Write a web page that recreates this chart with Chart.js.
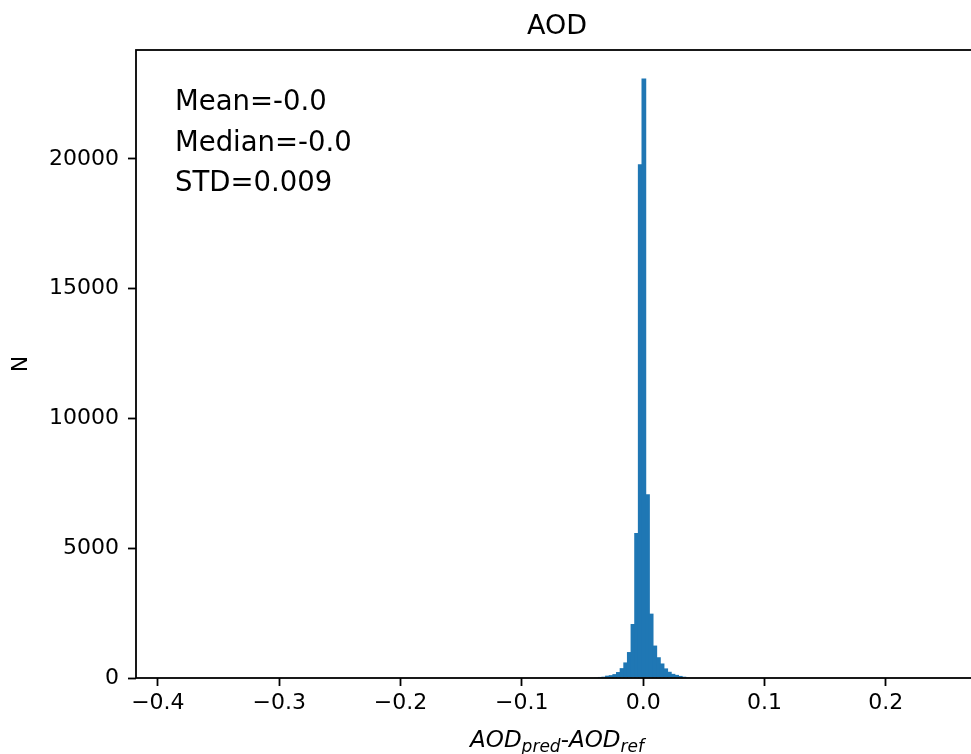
<!DOCTYPE html>
<html>
<head>
<meta charset="utf-8">
<title>AOD</title>
<script src="https://cdn.jsdelivr.net/npm/chart.js@4.4.1/dist/chart.umd.min.js"></script>
<style>
html, body { margin: 0; padding: 0; overflow: hidden; background: #fff; }
#wrap { width: 980px; height: 754px; }
</style>
</head>
<body>
<div id="wrap"><canvas id="histChart"></canvas></div>
<script>
// histogram bins of AOD_pred - AOD_ref (bin centres) and counts
const binCenters = [-0.0384, -0.0354, -0.0324, -0.0294, -0.0264, -0.0234, -0.0204, -0.0174, -0.0144, -0.0114,
                    -0.0084, -0.0054, -0.0024, 0.0006, 0.0036, 0.0066, 0.0096, 0.0126, 0.0156, 0.0186,
                    0.0216, 0.0246, 0.0276, 0.0306, 0.0336, 0.0366];
const binCounts = [25, 40, 50, 90, 110, 150, 230, 380, 600, 1000,
                   2080, 5590, 19800, 23100, 7080, 2480, 1250, 800, 560, 370,
                   240, 160, 120, 80, 50, 30];
const xTicks = [-0.4, -0.3, -0.2, -0.1, 0.0, 0.1, 0.2];
const yTicks = [0, 5000, 10000, 15000, 20000];
const statLines = ['Mean=-0.0', 'Median=-0.0', 'STD=0.009'];

const FONT = '"DejaVu Sans", sans-serif';

function fmtX(v) {
    const r = Math.round(v * 10) / 10;
    return (r < 0 ? '\u2212' : '') + Math.abs(r).toFixed(1);
}

// frame, title, axis labels and the stats text
const decorations = {
    id: 'decorations',
    afterDraw(chart) {
        const { ctx, chartArea: a } = chart;
        const cx = (a.left + a.right) / 2;
        ctx.save();
        ctx.strokeStyle = '#000';
        ctx.lineWidth = 1.8;
        ctx.strokeRect(a.left, a.top, a.right - a.left, a.bottom - a.top);

        ctx.fillStyle = '#000';
        ctx.textBaseline = 'alphabetic';
        ctx.font = '27px ' + FONT;
        ctx.textAlign = 'center';
        ctx.fillText('AOD', cx, 34);

        ctx.textAlign = 'left';
        ctx.font = '27.5px ' + FONT;
        statLines.forEach((t, i) => ctx.fillText(t, 175, 110 + i * 40.5));

        // y label
        ctx.font = '22px ' + FONT;
        ctx.save();
        ctx.translate(27, (a.top + a.bottom) / 2);
        ctx.rotate(-Math.PI / 2);
        ctx.textAlign = 'center';
        ctx.fillText('N', 0, 0);
        ctx.restore();

        // x label with subscripts
        const big = 'italic 23px ' + FONT, small = 'italic 17px ' + FONT, plain = '23px ' + FONT;
        const parts = [
            ['AOD', big, 0], ['pred', small, 5], ['-', plain, 0], ['AOD', big, 0], ['ref', small, 5]
        ];
        let total = 0;
        parts.forEach(p => { ctx.font = p[1]; total += ctx.measureText(p[0]).width; });
        let x = cx - total / 2;
        ctx.textAlign = 'left';
        parts.forEach(p => {
            ctx.font = p[1];
            ctx.fillText(p[0], x, 747 + p[2]);
            x += ctx.measureText(p[0]).width;
        });
        ctx.restore();
    }
};

const ctx = document.getElementById('histChart').getContext('2d');
new Chart(ctx, {
    type: 'bar',
    data: {
        datasets: [{
            data: binCenters.map((c, i) => ({ x: c, y: binCounts[i] })),
            backgroundColor: '#1f77b4',
            borderWidth: 0,
            barPercentage: 1.3,
            categoryPercentage: 1.0
        }]
    },
    options: {
        responsive: true,
        maintainAspectRatio: false,
        animation: false,
        devicePixelRatio: 1,
        layout: { padding: { left: 0, top: 50, right: 2, bottom: 0 } },
        plugins: {
            legend: { display: false },
            title: { display: false },
            tooltip: { enabled: false }
        },
        scales: {
            x: {
                type: 'linear',
                min: -0.418,
                max: 0.276,
                offset: false,
                border: { display: false },
                grid: { drawOnChartArea: false, offset: false, tickLength: 8, tickColor: '#000', tickWidth: 1.8 },
                afterBuildTicks: s => { s.ticks = xTicks.map(v => ({ value: v })); },
                afterFit: s => { s.height = 76; },
                ticks: {
                    color: '#000',
                    padding: 4,
                    maxRotation: 0,
                    font: { family: FONT, size: 22 },
                    callback: v => fmtX(v)
                }
            },
            y: {
                min: 0,
                max: 24200,
                border: { display: false },
                grid: { drawOnChartArea: false, tickLength: 8, tickColor: '#000', tickWidth: 1.8 },
                afterBuildTicks: s => { s.ticks = yTicks.map(v => ({ value: v })); },
                afterFit: s => { s.width = 136; },
                ticks: {
                    color: '#000',
                    padding: 9,
                    font: { family: FONT, size: 22 },
                    callback: v => String(v)
                }
            }
        }
    },
    plugins: [decorations]
});
</script>
</body>
</html>
